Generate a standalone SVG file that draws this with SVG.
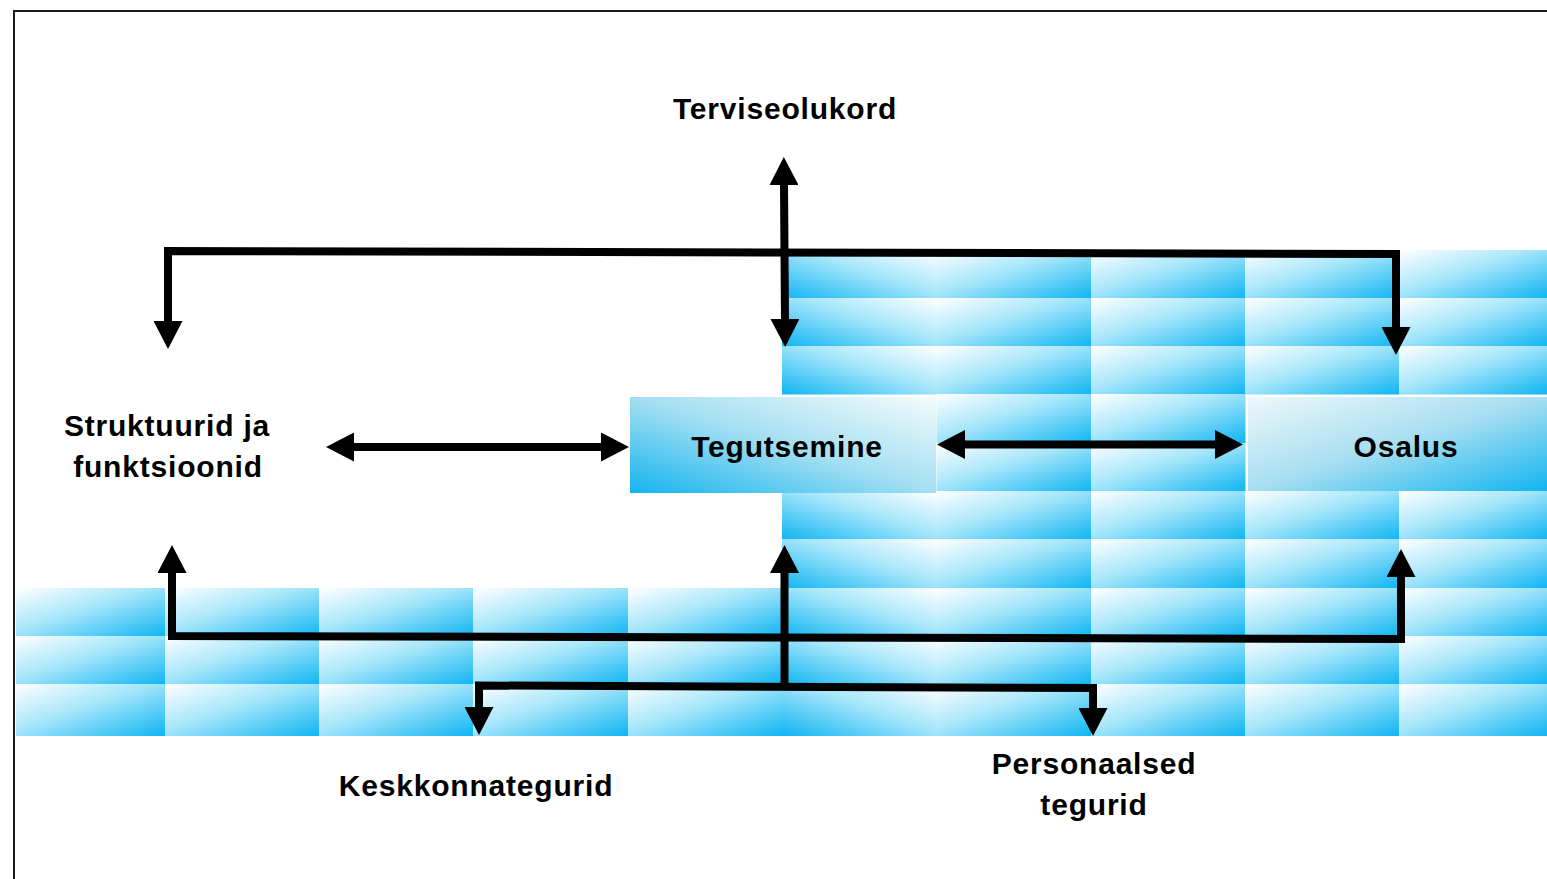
<svg xmlns="http://www.w3.org/2000/svg" width="1547" height="879" viewBox="0 0 1547 879">
<defs>
<linearGradient id="gA" x1="0" y1="0" x2="1" y2="1"><stop offset="0" stop-color="#ffffff"/><stop offset="0.45" stop-color="#a6e6fb"/><stop offset="1" stop-color="#0fb5f2"/></linearGradient>
<linearGradient id="gB" x1="1" y1="0" x2="0" y2="1"><stop offset="0" stop-color="#ffffff"/><stop offset="0.45" stop-color="#a6e6fb"/><stop offset="1" stop-color="#0fb5f2"/></linearGradient>
<linearGradient id="gC" x1="0" y1="1" x2="1" y2="0"><stop offset="0" stop-color="#14b4ef"/><stop offset="0.5" stop-color="#a3dff2"/><stop offset="1" stop-color="#f4fbfd"/></linearGradient>
<linearGradient id="gD" x1="0" y1="0" x2="1" y2="1"><stop offset="0" stop-color="#eef8fb"/><stop offset="0.5" stop-color="#a6def1"/><stop offset="1" stop-color="#12b5f0"/></linearGradient>
<marker id="ah" viewBox="0 0 28 29" refX="1" refY="14.5" markerWidth="28" markerHeight="29" markerUnits="userSpaceOnUse" orient="auto-start-reverse"><path d="M0,0 L28,14.5 L0,29 z" fill="#000"/></marker>
<style>
.ta{fill:url(#gA)}
.tb{fill:url(#gB)}
.lbl{font-family:"Liberation Sans",Arial,Helvetica,sans-serif;font-weight:bold;font-size:30px;letter-spacing:0.8px;fill:#000;text-anchor:middle}
.con{fill:none;stroke:#000;stroke-width:8;stroke-linejoin:miter}
</style>
</defs>
<rect x="0" y="0" width="1547" height="879" fill="#ffffff"/>
<rect x="14" y="11" width="1600" height="900" fill="none" stroke="#1c1c1c" stroke-width="2"/>
<g id="tiles">
<!-- upper block -->
<rect class="tb" x="782" y="250" width="155" height="48.5"/><rect class="ta" x="936.5" y="250" width="155" height="48.5"/><rect class="ta" x="1091" y="250" width="154.5" height="48.5"/><rect class="ta" x="1245" y="250" width="154.5" height="48.5"/><rect class="ta" x="1399" y="250" width="148" height="48.5"/>
<rect class="tb" x="782" y="298" width="155" height="48.5"/><rect class="ta" x="936.5" y="298" width="155" height="48.5"/><rect class="ta" x="1091" y="298" width="154.5" height="48.5"/><rect class="ta" x="1245" y="298" width="154.5" height="48.5"/><rect class="ta" x="1399" y="298" width="148" height="48.5"/>
<rect class="tb" x="782" y="346" width="155" height="48.5"/><rect class="ta" x="936.5" y="346" width="155" height="48.5"/><rect class="ta" x="1091" y="346" width="154.5" height="48.5"/><rect class="ta" x="1245" y="346" width="154.5" height="48.5"/><rect class="ta" x="1399" y="346" width="148" height="48.5"/>
<!-- middle -->
<rect class="ta" x="936.5" y="394" width="155" height="49.5"/><rect class="ta" x="1091" y="394" width="154.5" height="49.5"/>
<rect class="ta" x="936.5" y="443" width="155" height="48.5"/><rect class="ta" x="1091" y="443" width="154.5" height="48.5"/>
<!-- lower block -->
<rect class="tb" x="782" y="491" width="155" height="48.5"/><rect class="ta" x="936.5" y="491" width="155" height="48.5"/><rect class="ta" x="1091" y="491" width="154.5" height="48.5"/><rect class="ta" x="1245" y="491" width="154.5" height="48.5"/><rect class="ta" x="1399" y="491" width="148" height="48.5"/>
<rect class="tb" x="782" y="539" width="155" height="49.5"/><rect class="ta" x="936.5" y="539" width="155" height="49.5"/><rect class="ta" x="1091" y="539" width="154.5" height="49.5"/><rect class="ta" x="1245" y="539" width="154.5" height="49.5"/><rect class="ta" x="1399" y="539" width="148" height="49.5"/>
<rect class="tb" x="782" y="588" width="155" height="48.5"/><rect class="ta" x="936.5" y="588" width="155" height="48.5"/><rect class="ta" x="1091" y="588" width="154.5" height="48.5"/><rect class="ta" x="1245" y="588" width="154.5" height="48.5"/><rect class="ta" x="1399" y="588" width="148" height="48.5"/>
<rect class="tb" x="782" y="636" width="155" height="48.5"/><rect class="ta" x="936.5" y="636" width="155" height="48.5"/><rect class="ta" x="1091" y="636" width="154.5" height="48.5"/><rect class="ta" x="1245" y="636" width="154.5" height="48.5"/><rect class="ta" x="1399" y="636" width="148" height="48.5"/>
<rect class="tb" x="782" y="684" width="155" height="52"/><rect class="ta" x="936.5" y="684" width="155" height="52"/><rect class="ta" x="1091" y="684" width="154.5" height="52"/><rect class="ta" x="1245" y="684" width="154.5" height="52"/><rect class="ta" x="1399" y="684" width="148" height="52"/>
<!-- bottom-left block -->
<rect class="ta" x="16" y="588" width="149.5" height="48.5"/><rect class="ta" x="165" y="588" width="154.5" height="48.5"/><rect class="ta" x="319" y="588" width="154.5" height="48.5"/><rect class="ta" x="473" y="588" width="155.5" height="48.5"/><rect class="ta" x="628" y="588" width="154.5" height="48.5"/>
<rect class="ta" x="16" y="636" width="149.5" height="48.5"/><rect class="ta" x="165" y="636" width="154.5" height="48.5"/><rect class="ta" x="319" y="636" width="154.5" height="48.5"/><rect class="ta" x="473" y="636" width="155.5" height="48.5"/><rect class="ta" x="628" y="636" width="154.5" height="48.5"/>
<rect class="ta" x="16" y="684" width="149.5" height="52"/><rect class="ta" x="165" y="684" width="154.5" height="52"/><rect class="ta" x="319" y="684" width="154.5" height="52"/><rect class="ta" x="473" y="684" width="155.5" height="52"/><rect class="ta" x="628" y="684" width="154.5" height="52"/>
</g>
<g id="node-terviseolukord"><text class="lbl" x="785" y="119">Terviseolukord</text></g>
<g id="node-struktuurid"><text class="lbl" x="167" y="436">Struktuurid ja</text><text class="lbl" x="168" y="477">funktsioonid</text></g>
<g id="node-tegutsemine"><rect x="630" y="397" width="306" height="96" fill="url(#gC)"/><text class="lbl" x="787" y="457">Tegutsemine</text></g>
<g id="node-osalus"><rect x="1248" y="397" width="299" height="94" fill="url(#gD)"/><text class="lbl" x="1406" y="457">Osalus</text></g>
<g id="node-keskkonnategurid"><text class="lbl" x="476" y="796">Keskkonnategurid</text></g>
<g id="node-personaalsed"><text class="lbl" x="1094" y="774">Personaalsed</text><text class="lbl" x="1094" y="815">tegurid</text></g>
<g id="connectors">
<polyline class="con" points="168,322 168,251 1396,254 1396,328" marker-start="url(#ah)" marker-end="url(#ah)"/>
<line class="con" x1="784" y1="184" x2="785" y2="320" marker-start="url(#ah)" marker-end="url(#ah)"/>
<line class="con" x1="353" y1="447" x2="602" y2="447" marker-start="url(#ah)" marker-end="url(#ah)"/>
<line class="con" x1="964" y1="444.5" x2="1216" y2="444.5" marker-start="url(#ah)" marker-end="url(#ah)"/>
<polyline class="con" points="172,572 172,636 1401,639 1401,576" marker-start="url(#ah)" marker-end="url(#ah)"/>
<polyline class="con" points="479,708 479,685.5 1093,688 1093,709" marker-start="url(#ah)" marker-end="url(#ah)"/>
<line class="con" x1="784.5" y1="572" x2="784.5" y2="687"  marker-start="url(#ah)"/>
</g>
</svg>
